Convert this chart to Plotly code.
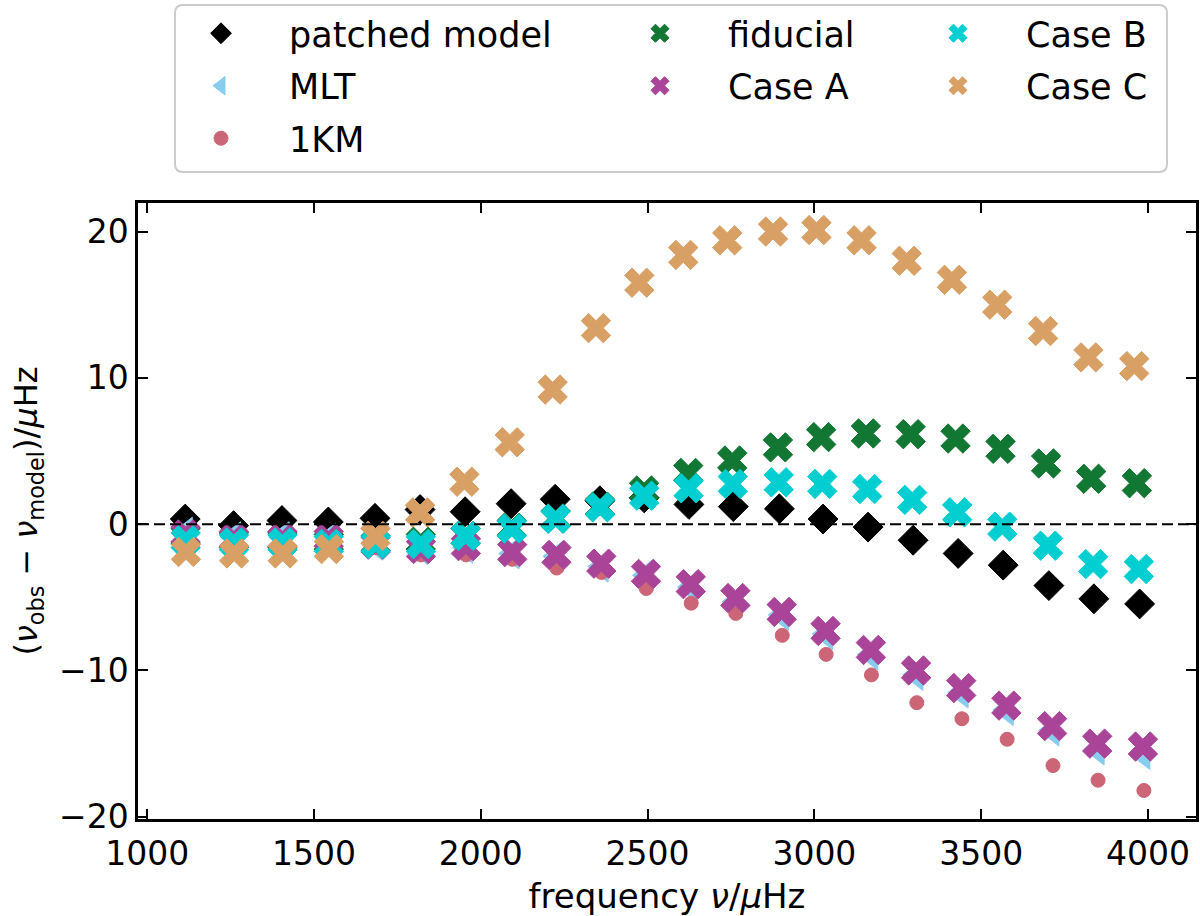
import numpy as np
import plotly.graph_objects as go

# observed mode frequencies (muHz)
nu_obs = np.array([1114.4, 1258.9, 1404.3, 1543.2, 1683.4, 1819.0, 1953.9, 2092.4, 2224.7, 2358.6,
                   2491.8, 2625.4, 2758.2, 2896.1, 3026.4, 3160.8, 3294.9, 3429.0, 3563.2, 3698.8,
                   3832.9, 3969.6])

# nu_obs - nu_model (muHz) for each model
patched = [0.35, -0.1, 0.25, 0.15, 0.4, 1.0, 0.85, 1.4, 1.7, 1.6, 1.8, 1.35, 1.2, 1.05, 0.35, -0.2,
           -1.1, -2.0, -2.8, -4.2, -5.1, -5.45]
mlt = [-0.6, -0.9, -0.9, -1.0, -1.4, -1.7, -1.6, -2.0, -2.2, -2.9, -3.5, -4.3, -5.3, -6.2, -7.5,
       -8.9, -10.3, -11.5, -12.7, -14.1, -15.4, -15.7]
km1 = [-1.1, -1.3, -1.3, -1.4, -1.6, -2.1, -2.1, -2.4, -3.0, -3.3, -4.4, -5.4, -6.1, -7.6, -8.9,
       -10.3, -12.2, -13.3, -14.7, -16.5, -17.5, -18.2]
fiducial = [-0.8, -1.1, -1.1, -1.2, -1.3, -1.2, -0.8, -0.25, 0.4, 1.2, 2.3, 3.5, 4.35, 5.25, 5.95,
            6.2, 6.15, 5.85, 5.15, 4.15, 3.1, 2.8]
case_a = [-0.7, -1.0, -1.0, -1.0, -1.4, -1.7, -1.5, -1.9, -2.1, -2.7, -3.4, -4.1, -5.05, -6.0, -7.3,
          -8.6, -10.0, -11.2, -12.4, -13.8, -15.0, -15.2]
case_b = [-1.1, -1.25, -1.25, -1.35, -1.35, -1.36, -0.8, -0.3, 0.36, 1.15, 1.95, 2.45, 2.75, 2.86,
          2.75, 2.4, 1.66, 0.81, -0.17, -1.47, -2.73, -3.07]
case_c = [-1.9, -2.0, -2.0, -1.7, -0.8, 0.8, 2.9, 5.6, 9.2, 13.4, 16.5, 18.4, 19.4, 20.0, 20.1, 19.4,
          18.0, 16.7, 15.0, 13.2, 11.4, 10.8]

x_ticks = [1000, 1500, 2000, 2500, 3000, 3500, 4000]
y_ticks = [-20, -10, 0, 10, 20]

series = [
    ("patched model", patched, "diamond", 23, "#000000", "legend"),
    ("MLT", mlt, "triangle-left", 27, "#88CCEE", "legend"),
    ("1KM", km1, "circle", 14, "#CC6677", "legend"),
    ("fiducial", fiducial, "x", 26, "#117733", "legend2"),
    ("Case A", case_a, "x", 26, "#AA4499", "legend2"),
    ("Case B", case_b, "x", 26, "#00CED1", "legend3"),
    ("Case C", case_c, "x", 26, "#D9A066", "legend3"),
]

fig = go.Figure()
for name, delta, sym, size, color, leg in series:
    d = np.array(delta)
    fig.add_trace(go.Scatter(
        x=nu_obs - d, y=d, mode="markers", name=name, legend=leg, legendgroup=name,
        marker=dict(symbol=sym, size=size, color=color, line=dict(width=1, color=color)),
    ))

FONT = "DejaVu Sans"
L, R, T, B = 138, 4, 203, 97
W, H = 1200, 916
pw, ph = W - L - R, H - T - B

def px2paper_x(px):
    return (px - L) / pw

def px2paper_y(py):
    return (H - B - py) / ph

axis_common = dict(
    showline=True, linecolor="black", linewidth=2.5, mirror="allticks",
    ticks="inside", ticklen=10, tickwidth=2, tickcolor="black",
    showgrid=False, zeroline=False,
    tickfont=dict(family=FONT, size=33, color="black"),
)

fig.update_xaxes(range=[972.5, 4144], tickvals=x_ticks, ticklabelstandoff=4,
                 title=dict(text="frequency <i>ν</i>/<i>μ</i>Hz", standoff=16,
                            font=dict(family=FONT, size=34, color="black")),
                 **axis_common)
fig.update_yaxes(range=[-20.15, 21.95], tickvals=y_ticks,
                 title=dict(text="(<i>ν</i><sub>obs</sub> − <i>ν</i><sub>model</sub>)/<i>μ</i>Hz",
                            standoff=12, font=dict(family=FONT, size=32, color="black")),
                 **axis_common)

# dashed zero line
fig.add_shape(type="line", xref="paper", yref="y", x0=0, x1=1, y0=0, y1=0,
              line=dict(color="black", width=2, dash="11px,5px"), layer="above")

# legend frame (rounded)
x0, x1 = px2paper_x(175), px2paper_x(1167)
y0, y1 = px2paper_y(172), px2paper_y(5)
rx, ry = 8 / pw, 8 / ph
path = (f"M{x0+rx},{y1} L{x1-rx},{y1} Q{x1},{y1} {x1},{y1-ry} L{x1},{y0+ry} Q{x1},{y0} {x1-rx},{y0} "
        f"L{x0+rx},{y0} Q{x0},{y0} {x0},{y0+ry} L{x0},{y1-ry} Q{x0},{y1} {x0+rx},{y1} Z")
fig.add_shape(type="path", xref="paper", yref="paper", path=path,
              line=dict(color="#cccccc", width=2), fillcolor="rgba(255,255,255,0.8)", layer="below")

leg_common = dict(orientation="v", yanchor="top", xanchor="left", bgcolor="rgba(0,0,0,0)",
                  borderwidth=0, font=dict(family=FONT, size=35, color="black"),
                  itemwidth=126, tracegroupgap=4, y=px2paper_y(4))

fig.update_layout(
    width=W, height=H,
    margin=dict(l=L, r=R, t=T, b=B, autoexpand=False),
    paper_bgcolor="white", plot_bgcolor="white",
    font=dict(family=FONT, color="black"),
    showlegend=True,
    legend=dict(x=px2paper_x(153), **leg_common),
    legend2=dict(x=px2paper_x(592), **leg_common),
    legend3=dict(x=px2paper_x(890), **leg_common),
)

fig.write_html("out.html")
